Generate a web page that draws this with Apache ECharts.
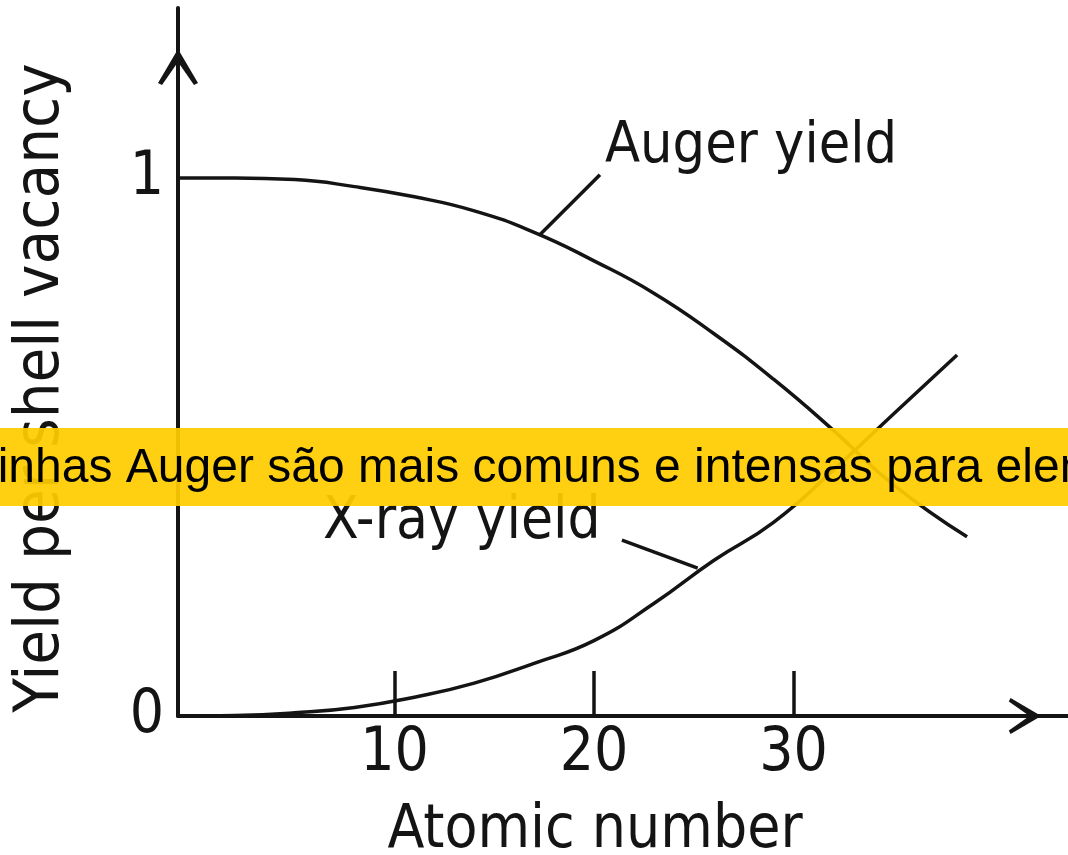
<!DOCTYPE html>
<html>
<head>
<meta charset="utf-8">
<title>Auger and X-ray yield</title>
<script src="https://cdn.jsdelivr.net/npm/echarts@6/dist/echarts.min.js"></script>
<style>
  html, body { margin: 0; padding: 0; background: #ffffff; }
  #chart { width: 1068px; height: 855px; }
</style>
</head>
<body>
<div id="chart"></div>
<script>
// Fluorescence vs. Auger yield per K-shell vacancy, against atomic number Z
const augerZ = [-0.85, 2, 5, 8, 11, 14, 17, 20, 23, 26, 29, 32, 35, 38.7];
const augerY = [1.0, 1.0, 0.997, 0.984, 0.965, 0.939, 0.899, 0.846, 0.786, 0.711, 0.626, 0.531, 0.430, 0.333];

const xrayZ = [-0.85, 2, 5, 8, 11, 14, 17, 20, 23, 26, 29, 32, 35, 38.2];
const xrayY = [0, 0.001, 0.006, 0.016, 0.035, 0.061, 0.098, 0.140, 0.209, 0.289, 0.360, 0.457, 0.561, 0.671];

// leader lines from the curve labels to the curves
const augerLeaderZ = [17.3, 20.3];
const augerLeaderY = [0.895, 1.006];
const xrayLeaderZ = [21.4, 25.2];
const xrayLeaderY = [0.327, 0.275];

const xTicks = [10, 20, 30];
const yTicks = [0, 1];

const curveLabels = ['Auger yield', 'X-ray yield'];
const xName = 'Atomic number';
const yName = 'Yield per shell vacancy';
const note = 'Linhas Auger são mais comuns e intensas para elementos leves';

const ink = '#141414';
const face = '"DejaVu Sans Condensed", "DejaVu Sans", sans-serif';
const pairs = (xs, ys) => xs.map((x, i) => [x, ys[i]]);
const arrowPath = 'path://M20,0 L40,34 L36,36 L20,13 L4,36 L0,34 Z';

const chart = echarts.init(document.getElementById('chart'), null, { renderer: 'canvas' });

chart.setOption({
  animation: false,
  backgroundColor: '#ffffff',
  grid: { left: 178, right: 0, top: 8, bottom: 139, containLabel: false },
  xAxis: {
    type: 'value',
    min: -0.85,
    max: 43.76,
    axisLine: {
      show: true,
      onZero: false,
      lineStyle: { color: ink, width: 4 },
      symbol: ['none', arrowPath],
      symbolSize: [36, 44],
      symbolOffset: [0, -43]
    },
    axisTick: {
      show: true, inside: true, length: 45,
      customValues: xTicks,
      lineStyle: { color: ink, width: 3.5 }
    },
    axisLabel: {
      show: true, customValues: xTicks, margin: 8,
      color: ink, fontSize: 60, fontFamily: face
    },
    splitLine: { show: false }
  },
  yAxis: {
    type: 'value',
    min: 0,
    max: 1.316,
    axisLine: {
      show: true,
      onZero: false,
      lineStyle: { color: ink, width: 4 },
      symbol: ['none', arrowPath],
      symbolSize: [40, 36],
      symbolOffset: [0, -59]
    },
    axisTick: { show: false },
    axisLabel: {
      show: true, customValues: yTicks, margin: 14,
      color: ink, fontSize: 60, fontFamily: face
    },
    splitLine: { show: false }
  },
  series: [
    {
      name: curveLabels[0], type: 'line', data: pairs(augerZ, augerY),
      smooth: 0.5, showSymbol: false,
      lineStyle: { color: ink, width: 3.5 }
    },
    {
      name: curveLabels[1], type: 'line', data: pairs(xrayZ, xrayY),
      smooth: 0.5, showSymbol: false,
      lineStyle: { color: ink, width: 3.5 }
    },
    {
      type: 'line', data: pairs(augerLeaderZ, augerLeaderY),
      showSymbol: false, lineStyle: { color: ink, width: 3.5 }
    },
    {
      type: 'line', data: pairs(xrayLeaderZ, xrayLeaderY),
      showSymbol: false, lineStyle: { color: ink, width: 3.5 }
    }
  ],
  graphic: [
    {
      type: 'text', x: 605, y: 147, z: 10,
      style: { text: curveLabels[0], fill: ink, font: '57px ' + face, verticalAlign: 'middle', align: 'left' }
    },
    {
      type: 'text', x: 323, y: 523, z: 10,
      style: { text: curveLabels[1], fill: ink, font: '58px ' + face, verticalAlign: 'middle', align: 'left' }
    },
    {
      type: 'text', x: 595, y: 831, z: 10,
      style: { text: xName, fill: ink, font: '60px ' + face, verticalAlign: 'middle', align: 'center' }
    },
    {
      type: 'text', x: 42, y: 388, rotation: Math.PI / 2, z: 10,
      style: { text: yName, fill: ink, font: '63px ' + face, verticalAlign: 'middle', align: 'center' }
    },
    {
      type: 'rect', z: 100,
      shape: { x: 0, y: 428, width: 1068, height: 78 },
      style: { fill: 'rgba(255, 204, 0, 0.93)' }
    },
    {
      type: 'text', x: -29, y: 469, z: 101,
      style: { text: note, fill: '#000000', font: '48px "Liberation Sans", Arial, sans-serif', verticalAlign: 'middle', align: 'left' }
    }
  ]
});
</script>
</body>
</html>
